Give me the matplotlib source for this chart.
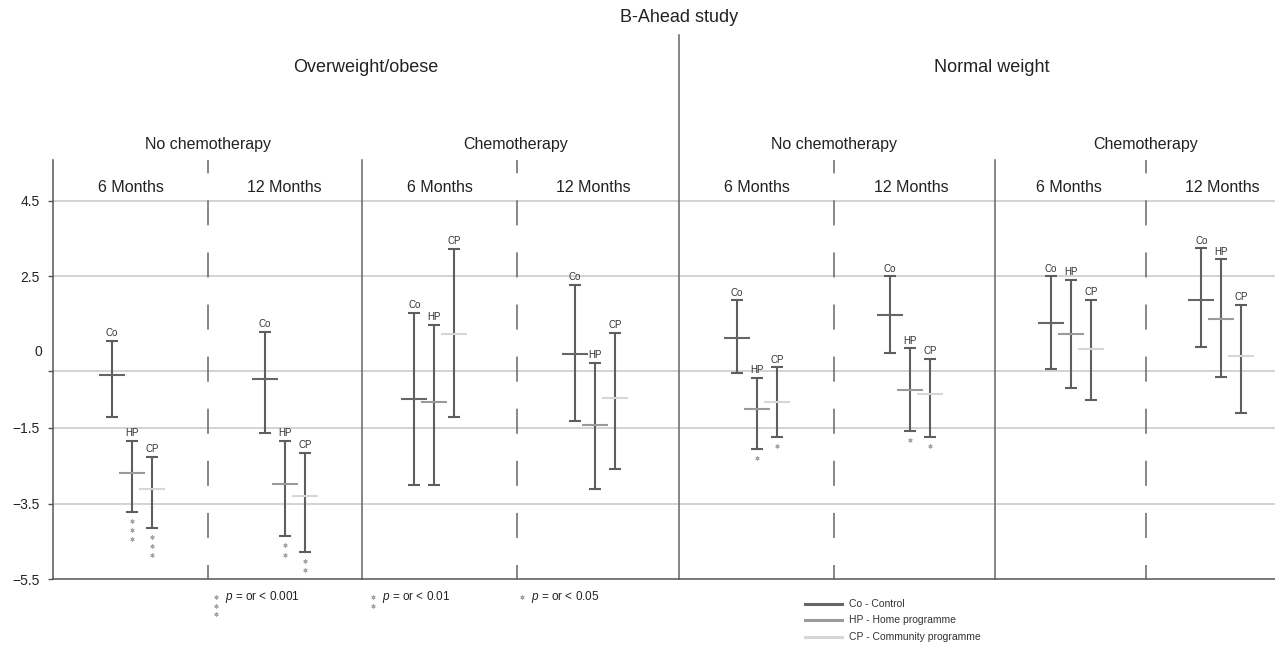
import numpy as np
import matplotlib
matplotlib.use('Agg')
import matplotlib.pyplot as plt
from matplotlib.lines import Line2D

plt.rcParams['font.family'] = 'Liberation Sans'
plt.rcParams['mathtext.fontset'] = 'custom'
plt.rcParams['mathtext.it'] = 'Liberation Sans:italic'
plt.rcParams['mathtext.rm'] = 'Liberation Sans'

# Data: one entry per panel
# order: OW no chemo 6M, OW no chemo 12M, OW chemo 6M, OW chemo 12M,
#        NW no chemo 6M, NW no chemo 12M, NW chemo 6M, NW chemo 12M
co_mean = [-0.10, -0.22, -0.73, 0.46, 0.88, 1.47, 1.27, 1.88]
co_low = [-1.21, -1.64, -3.00, -1.32, -0.04, 0.49, 0.05, 0.64]
co_high = [0.79, 1.03, 1.53, 2.28, 1.87, 2.50, 2.50, 3.24]
hp_mean = [-2.70, -2.99, -0.82, -1.42, -1.01, -0.51, 0.98, 1.38]
hp_low = [-3.71, -4.36, -3.00, -3.11, -2.05, -1.58, -0.46, -0.15]
hp_high = [-1.85, -1.85, 1.22, 0.22, -0.17, 0.60, 2.40, 2.95]
cp_mean = [-3.11, -3.31, 0.97, -0.72, -0.81, -0.61, 0.57, 0.39]
cp_low = [-4.14, -4.77, -1.21, -2.58, -1.74, -1.74, -0.77, -1.11]
cp_high = [-2.27, -2.16, 3.23, 1.00, 0.10, 0.32, 1.88, 1.75]
hp_stars = [3, 2, 0, 0, 1, 1, 0, 0]
cp_stars = [3, 2, 0, 0, 1, 1, 0, 0]

arm_labels = ['Co', 'HP', 'CP']
arm_names = ['Co - Control', 'HP - Home programme', 'CP - Community programme']
month_labels = ['6 Months', '12 Months']
chemo_labels = ['No chemotherapy', 'Chemotherapy']
weight_labels = ['Overweight/obese', 'Normal weight']
ytick_vals = [4.5, 2.5, 0, -1.5, -3.5, -5.5]
ytick_text = ['4.5', '2.5', '', '\u22121.5', '\u22123.5', '\u22125.5']
p_labels = ['0.001', '0.01', '0.05']

# layout (pixel-like x units)
W, H = 1275, 645
centers = [131.7, 285, 434.3, 594.7, 757, 909.7, 1070.7, 1221.3]
arm_off = [-20, 0, 20]
dashed_x = [207.7, 516.7, 834.3, 1145.7]
solid_x = [361.7, 995]
major_x = 679.3
chemo_x = [208, 516, 834, 1146]
weight_x = [366, 992]
arm_mean_colors = ['#666666', '#9a9a9a', '#d6d6d6']
bar_color = '#5e5e5e'
ax_top, ax_bot, ax_left = 160, 579.3, 53.3


def fx(x):
    return x / W


def fy(y):
    return 1 - y / H


fig = plt.figure(figsize=(12.75, 6.45), dpi=100)
ax = fig.add_axes([fx(ax_left), fy(ax_bot), 1 - fx(ax_left), (ax_bot - ax_top) / H])
ax.set_xlim(ax_left, W)
ax.set_ylim(-5.5, 4.5 + (200.7 - ax_top) / 37.85)

for v in ytick_vals[:-1]:
    ax.axhline(v, color='#c8c8c8', lw=1.1, zorder=0)

ax.set_yticks(ytick_vals)
ax.set_yticklabels(ytick_text, fontsize=10, color='#222222')
ax.tick_params(axis='y', length=3.5, width=1, color='#555555', pad=6)
ax.set_xticks([])
ax.text(-0.0092, 0.5, '0', transform=ax.get_yaxis_transform(), ha='right', va='center',
        fontsize=10, color='#222222')
for s in ['top', 'right']:
    ax.spines[s].set_visible(False)
for s in ['left', 'bottom']:
    ax.spines[s].set_color('#555555')
    ax.spines[s].set_linewidth(1.1)

xt = ax.get_xaxis_transform()
for x in solid_x:
    ax.plot([x, x], [0, 1], transform=xt, color='#666666', lw=1.1, clip_on=False)
ax.plot([major_x, major_x], [0, (ax_bot - 35) / (ax_bot - ax_top)], transform=xt,
        color='#666666', lw=1.1, clip_on=False)
for x in dashed_x:
    ax.plot([x, x], [1, 0], transform=xt, color='#666666', lw=1.1,
            linestyle=(7.7, (16.4, 17.7)), clip_on=False)

means = [co_mean, hp_mean, cp_mean]
lows = [co_low, hp_low, cp_low]
highs = [co_high, hp_high, cp_high]
stars = [[0] * 8, hp_stars, cp_stars]
star_step = 9.2 / 37.85

for a in range(3):
    xs = np.array(centers) + arm_off[a]
    m = np.array(means[a])
    lo = np.array(lows[a])
    hi = np.array(highs[a])
    ax.errorbar(xs, m, yerr=[m - lo, hi - m], fmt='none', ecolor=bar_color,
                elinewidth=1.5, capsize=4.6, capthick=1.5, zorder=3)
    ax.hlines(m, xs - 13, xs + 13, colors=arm_mean_colors[a], lw=1.5, zorder=4)
    for i in range(8):
        ax.annotate(arm_labels[a], (xs[i], hi[i]), xytext=(0, 2), textcoords='offset points',
                    ha='center', va='bottom', fontsize=7, color='#333333')
        n = stars[a][i]
        if n:
            sy = lo[i] - star_step * np.arange(1, n + 1)
            ax.plot([xs[i]] * n, sy, linestyle='none', marker=(6, 2, 0), markersize=3,
                    color='#a5a5a5', markeredgewidth=0.6)

# headers
for i, c in enumerate(centers):
    ax.text(dashed_x[i // 2] + (-77 if i % 2 == 0 else 77), (ax_bot - 188) / (ax_bot - ax_top),
            month_labels[i % 2], transform=xt, ha='center', va='center', fontsize=11.5,
            color='#222222')
for i, x in enumerate(chemo_x):
    ax.text(x, (ax_bot - 144) / (ax_bot - ax_top), chemo_labels[i % 2], transform=xt,
            ha='center', va='center', fontsize=11.5, color='#222222')
for i, x in enumerate(weight_x):
    fig.text(fx(x), fy(67), weight_labels[i], ha='center', va='center', fontsize=13,
             color='#222222')
fig.text(fx(679), fy(18), 'B-Ahead study', ha='center', va='center', fontsize=13,
         color='#222222')

# p-value legend
p_star_x = [216, 373, 522]
for k in range(3):
    n = 3 - k
    for j in range(n):
        fig.add_artist(Line2D([fx(p_star_x[k])], [fy(597 + 8.5 * j)], marker=(6, 2, 0),
                              markersize=3, color='#a5a5a5', markeredgewidth=0.6,
                              linestyle='none'))
    fig.text(fx(p_star_x[k] + 9), fy(597), '$p$ = or < ' + p_labels[k], ha='left',
             va='center', fontsize=8.5, color='#222222')

# arm legend
for k in range(3):
    yy = fy(604 + 16.3 * k)
    fig.add_artist(Line2D([fx(805), fx(842)], [yy, yy], color=arm_mean_colors[k], lw=2.2))
    fig.text(fx(849), yy, arm_names[k], ha='left', va='center', fontsize=7.5, color='#333333')

fig.savefig('out.png', dpi=100)
